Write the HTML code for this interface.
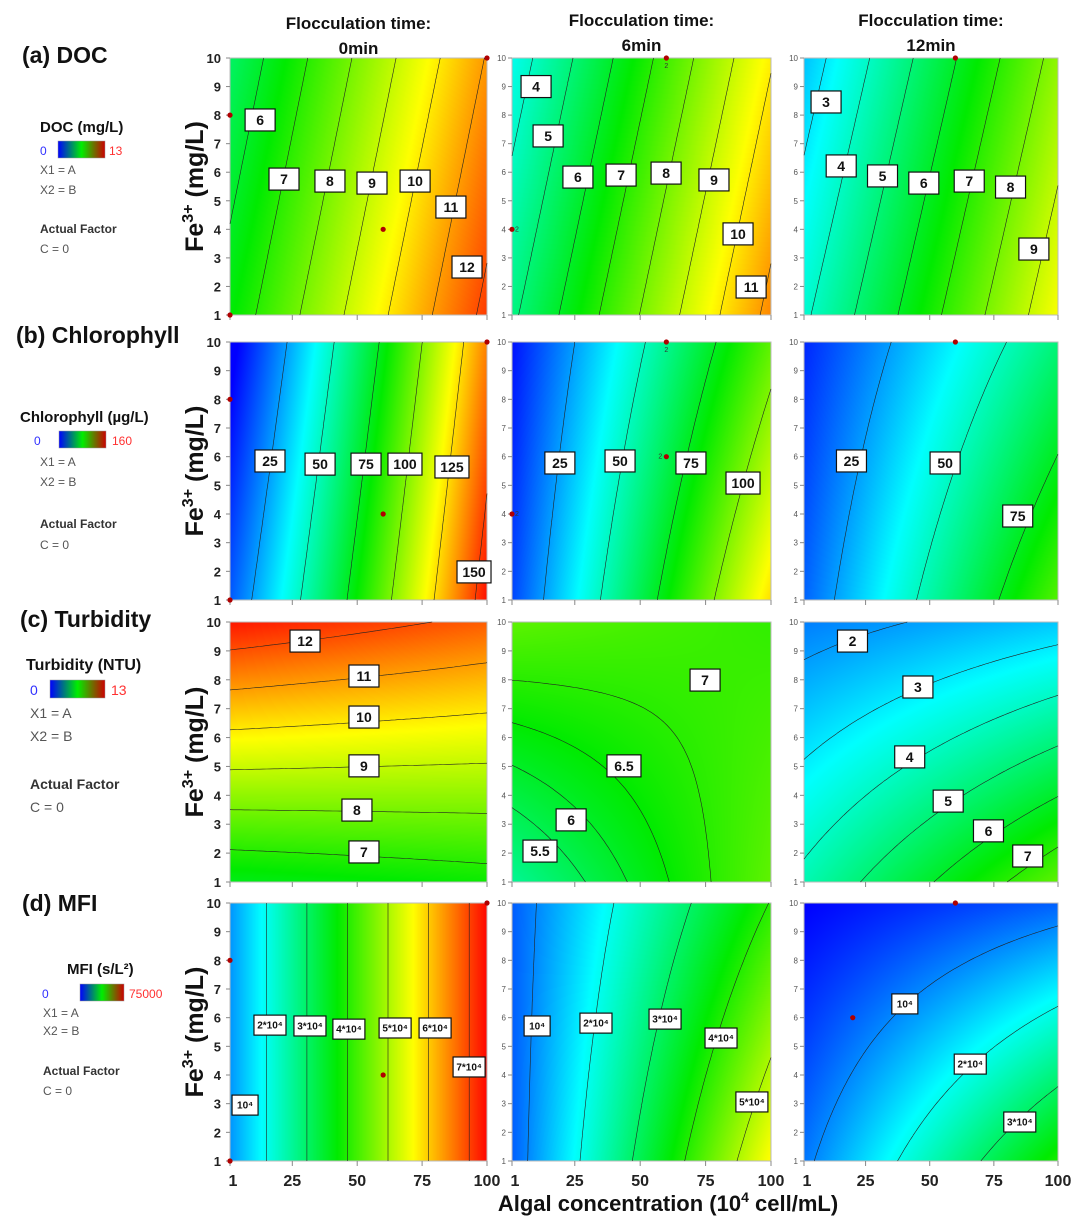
<!DOCTYPE html>
<html><head><meta charset="utf-8">
<style>
html,body{margin:0;padding:0;background:#fff;}
#wrap{position:relative;width:1080px;height:1231px;overflow:hidden;font-family:"Liberation Sans",sans-serif;}
canvas{position:absolute;}
svg{position:absolute;left:0;top:0;}
</style></head>
<body>
<div id="wrap">
<svg id="svg" width="1080" height="1231">
<defs>
<linearGradient id="cbar" x1="0" x2="1" y1="0" y2="0">
<stop offset="0" stop-color="#0000ff"/><stop offset="0.5" stop-color="#00ee00"/><stop offset="1" stop-color="#cc0000"/>
</linearGradient>
</defs>
</svg>
</div>
<script>
// ---- data ----
const xTicks=[1,25,50,75,100];
const yTicks=[1,2,3,4,5,6,7,8,9,10];
const colTitles=["0min","6min","12min"];
const rowTitles=["(a) DOC","(b) Chlorophyll","(c) Turbidity","(d) MFI"];
const ranges=[[0,13],[0,160],[0,13],[0,75000]];
// field coefficients f = a + b*x + c*y + d*x*y + e*x^2
const docCoef=[[6.49,0.0588,-0.131,0,0],[4.92,0.065,-0.15,0,0],[3.93,0.059,-0.15,0,0]];
const chlCoef=[[15.03,1.261,-2,0,0.00183],[10.9,1.175,-0.906,-0.0249,0],[16.05,0.805,-1.05,-0.0249,0]];
const turCoef=[[5.46,0.006,0.725,-0.0015,0],[4.25,0.0353,0.344,-0.0041,0],[4.482,0.0378,-0.287,-0.00284,0]];
const mfiCoef=[[10400,640,0,0,0],[6500,518,0,-18,0],[9408,334.2,-947.8,-26.2,0]];
const docLevels=[[5,6,7,8,9,10,11,12],[4,5,6,7,8,9,10,11],[3,4,5,6,7,8,9]];
const chlLevels=[[25,50,75,100,125,150],[25,50,75,100],[25,50,75]];
const turLevels=[[7,8,9,10,11,12],[5.5,6,6.5,7],[2,3,4,5,6,7]];
const mfiLevels=[[10000,20000,30000,40000,50000,60000,70000],[10000,20000,30000,40000,50000],[10000,20000,30000]];
const docLabels=[[["6",12.6,7.83],["7",21.8,5.76],["8",39.5,5.69],["9",55.7,5.62],["10",72.3,5.69],["11",86.1,4.78],["12",92.3,2.68]],
 [["4",10.2,9.0],["5",14.8,7.27],["6",26.2,5.83],["7",42.7,5.9],["8",59.9,5.97],["9",78.2,5.73],["10",87.4,3.84],["11",92.4,1.98]],
 [["3",9.6,8.46],["4",15.5,6.22],["5",31.6,5.87],["6",47.7,5.62],["7",65.4,5.69],["8",81.5,5.48],["9",90.6,3.31]]];
const chlLabels=[[["25",16.4,5.85],["50",35.7,5.74],["75",53.4,5.74],["100",68.4,5.74],["125",86.5,5.64],["150",95.0,1.98]],
 [["25",19.3,5.78],["50",42.3,5.85],["75",69.4,5.78],["100",89.3,5.08]],
 [["25",19.5,5.85],["50",56.0,5.78],["75",84.3,3.93]]];
const turLabels=[[["12",29.9,9.34],["11",52.6,8.13],["10",52.6,6.71],["9",52.6,5.02],["8",49.9,3.49],["7",52.6,2.04]],
 [["7",74.8,7.99],["6.5",43.8,5.02],["6",23.6,3.15],["5.5",11.7,2.07]],
 [["2",19.9,9.34],["3",45.4,7.75],["4",42.2,5.33],["5",57.2,3.8],["6",72.9,2.77],["7",88.2,1.9]]];
const mfiLabels=[[["10⁴",6.8,2.95],["2*10⁴",16.4,5.74],["3*10⁴",31.8,5.71],["4*10⁴",46.8,5.6],["5*10⁴",64.6,5.64],["6*10⁴",80.0,5.64],["7*10⁴",93.1,4.28]],
 [["10⁴",10.6,5.71],["2*10⁴",33.1,5.81],["3*10⁴",59.5,5.95],["4*10⁴",80.9,5.29],["5*10⁴",92.7,3.06]],
 [["10⁴",40.3,6.48],["2*10⁴",65.8,4.38],["3*10⁴",85.1,2.36]]];
const docPoints=[[[1,8,""],[1,1,""],[100,10,""],[60,4,""]],[[60,10,"2"],[1,4,"2"]],[[60,10,""]]];
const chlPoints=[[[1,8,""],[1,1,""],[100,10,""],[60,4,""]],[[60,10,"2"],[60,6,"2"],[1,4,"2"]],[[60,10,""]]];
const turPoints=[[],[],[]];
const mfiPoints=[[[1,8,""],[1,1,""],[100,10,""],[60,4,""]],[],[[60,10,""],[20,6,""]]];

// ---- layout ----
const colX=[[230,487],[512,771],[804,1058]];
const rowY=[[58,315],[342,600],[622,882],[903,1161]];
const coefs=[docCoef,chlCoef,turCoef,mfiCoef];
const levels=[docLevels,chlLevels,turLevels,mfiLevels];
const labels=[docLabels,chlLabels,turLabels,mfiLabels];
const points=[docPoints,chlPoints,turPoints,mfiPoints];

const NS="http://www.w3.org/2000/svg";
const svg=document.getElementById('svg');
const wrap=document.getElementById('wrap');
function mk(tag,attrs,parent,text){const e=document.createElementNS(NS,tag);for(const k in attrs)e.setAttribute(k,attrs[k]);if(text!==undefined)e.textContent=text;(parent||svg).appendChild(e);return e;}
function field(c,x,y){return c[0]+c[1]*x+c[2]*y+c[3]*x*y+c[4]*x*x;}
function cmap(t){t=Math.max(0,Math.min(1,t));const s=[[0,0,255],[0,255,255],[0,235,0],[255,255,0],[255,0,0]];const p=t*4,i=Math.min(3,Math.floor(p)),f=p-i;return s[i].map((v,k)=>Math.round(v+(s[i+1][k]-v)*f));}

for(let r=0;r<4;r++){for(let c=0;c<3;c++){
  const L=colX[c][0],R=colX[c][1],T=rowY[r][0],B=rowY[r][1],W=R-L,H=B-T;
  const sx=x=>L+(x-1)/99*W, sy=y=>B-(y-1)/9*H;
  const co=coefs[r][c],rg=ranges[r];
  const cv=document.createElement('canvas');cv.width=W;cv.height=H;cv.style.left=L+'px';cv.style.top=T+'px';
  
  
  const ctx=cv.getContext('2d');const img=ctx.createImageData(W,H);
  for(let j=0;j<H;j++){const y=1+(H-1-j)/(H-1)*9;for(let i=0;i<W;i++){const x=1+i/(W-1)*99;const col=cmap((field(co,x,y)-rg[0])/(rg[1]-rg[0]));const o=(j*W+i)*4;img.data[o]=col[0];img.data[o+1]=col[1];img.data[o+2]=col[2];img.data[o+3]=255;}}
  ctx.putImageData(img,0,0);wrap.insertBefore(cv,svg);
  const g=mk('g',{});
  
  
  mk('rect',{x:L,y:T,width:W,height:H,fill:'none',stroke:'#bbb','stroke-width':1},g);
  const N=70;const vals=[];
  for(let j=0;j<=N;j++){vals.push([]);for(let i=0;i<=N;i++)vals[j].push(field(co,1+i/N*99,1+j/N*9));}
  levels[r][c].forEach(lv=>{
    let d='';
    for(let j=0;j<N;j++)for(let i=0;i<N;i++){
      const v=[vals[j][i],vals[j][i+1],vals[j+1][i+1],vals[j+1][i]];
      const pc=[[i,j],[i+1,j],[i+1,j+1],[i,j+1]];const pts=[];
      for(let k=0;k<4;k++){const a=v[k],b=v[(k+1)%4];if((a<lv)!==(b<lv)){const t=(lv-a)/(b-a);const p=pc[k],q=pc[(k+1)%4];pts.push([p[0]+(q[0]-p[0])*t,p[1]+(q[1]-p[1])*t]);}}
      for(let k=0;k+1<pts.length;k+=2){const X=p=>sx(1+p[0]/N*99).toFixed(1),Y=p=>sy(1+p[1]/N*9).toFixed(1);d+='M'+X(pts[k])+' '+Y(pts[k])+'L'+X(pts[k+1])+' '+Y(pts[k+1]);}
    }
    const pe=mk('path',{d:d,stroke:'#222','stroke-width':0.6,fill:'none'},g);
    
    
  });
  yTicks.forEach(t=>{
    mk('line',{x1:L-4,x2:L,y1:sy(t),y2:sy(t),stroke:'#888','stroke-width':1},g);
    const tx=c===0?mk('text',{x:L-9,y:sy(t)+5,'text-anchor':'end','font-size':13,'font-weight':'bold',fill:'#222'},g,t):mk('text',{x:L-6,y:sy(t)+3,'text-anchor':'end','font-size':8,fill:'#555'},g,t);
    
    
  });
  xTicks.forEach(t=>{
    mk('line',{x1:sx(t),x2:sx(t),y1:B,y2:B+5,stroke:'#888','stroke-width':1},g);
    if(r===3){const tx=mk('text',{x:sx(t)+(t===1?3:0),y:B+25,'text-anchor':'middle','font-size':16,'font-weight':'bold',fill:'#222'},g,t);
      
      }
  });
  points[r][c].forEach(p=>{
    const dt=mk('circle',{cx:sx(p[0]),cy:sy(p[1]),r:2.6,fill:'#b00000'},g);
    
    
    if(p[2]){if(p[1]===10)mk('text',{x:sx(p[0])-2,y:sy(p[1])+10,'font-size':7,fill:'#333'},g,p[2]);else mk('text',{x:sx(p[0])+(p[0]===1?3:-8),y:sy(p[1])+2,'font-size':7,fill:'#333'},g,p[2]);}
  });
  labels[r][c].forEach(lb=>{
    const small=r===3;const fs=small?10:14;const w=small?(lb[0].length>3?32:26):Math.max(30,lb[0].length*8+10);const h=small?20:22;
    const cx=sx(lb[1]),cy=sy(lb[2]);
    const lg=mk('g',{},g);
    
    
    mk('rect',{x:cx-w/2,y:cy-h/2,width:w,height:h,fill:'#fff',stroke:'#111','stroke-width':1.2},lg);
    mk('text',{x:cx,y:cy+fs*0.36,'text-anchor':'middle','font-size':fs,'font-weight':'bold',fill:'#111'},lg,lb[0]);
  });
}}

colTitles.forEach((t,c)=>{
  const cx=(colX[c][0]+colX[c][1])/2, dy=c===0?0:-3;
  const a=mk('text',{x:cx,y:29+dy,'text-anchor':'middle','font-size':17,'font-weight':'bold',fill:'#111'},svg,'Flocculation time:');
  
  
  const b=mk('text',{x:cx,y:54+dy,'text-anchor':'middle','font-size':17,'font-weight':'bold',fill:'#111'},svg,t);
  
  
});
const rowTitleY=[63,343,627,911];
rowTitles.forEach((t,r)=>{
  const e=mk('text',{x:[22,16,20,22][r],y:rowTitleY[r],'font-size':23,'font-weight':'bold',fill:'#111'},svg,t);
  
  
  const cy=(rowY[r][0]+rowY[r][1])/2;
  const yt=mk('text',{x:0,y:0,transform:'translate(203,'+cy+') rotate(-90)','text-anchor':'middle','font-size':25,'font-weight':'bold',fill:'#111'});
  
  
  mk('tspan',{},yt,'Fe');mk('tspan',{'font-size':16,dy:-10},yt,'3+');mk('tspan',{dy:10},yt,' (mg/L)');
});
const legends=[
 {title:'DOC  (mg/L)',tx:40,ty:132,fs:15,bx:58,by:141,bw:47,bh:17,lo:'0',lox:40,hi:'13',hix:109,x1:174,x2:194,af:233,c0:253},
 {title:'Chlorophyll (µg/L)',tx:20,ty:422,fs:15,bx:59,by:431,bw:47,bh:17,lo:'0',lox:34,hi:'160',hix:112,x1:466,x2:486,af:528,c0:549},
 {title:'Turbidity (NTU)',tx:26,ty:670,fs:16,bx:50,by:680,bw:55,bh:18,lo:'0',lox:30,hi:'13',hix:111,x1:718,x2:741,af:789,c0:812},
 {title:'MFI (s/L²)',tx:67,ty:974,fs:15,bx:80,by:984,bw:44,bh:17,lo:'0',lox:42,hi:'75000',hix:129,x1:1017,x2:1035,af:1075,c0:1095}
];
legends.forEach((l,r)=>{
  const g=mk('g',{});
  
  
  const sm=r===2?14:12;
  const x0=r===2?30:(r===3?43:40);
  mk('text',{x:l.tx,y:l.ty,'font-size':l.fs,'font-weight':'bold',fill:'#111'},g,l.title);
  mk('rect',{x:l.bx,y:l.by,width:l.bw,height:l.bh,fill:'url(#cbar)',stroke:'#999','stroke-width':0.5},g);
  mk('text',{x:l.lox,y:l.by+l.bh-3,'font-size':sm,fill:'#3030ff'},g,l.lo);
  mk('text',{x:l.hix,y:l.by+l.bh-3,'font-size':sm,fill:'#ff3030'},g,l.hi);
  mk('text',{x:x0,y:l.x1,'font-size':sm,fill:'#555'},g,'X1 = A');
  mk('text',{x:x0,y:l.x2,'font-size':sm,fill:'#555'},g,'X2 = B');
  mk('text',{x:x0,y:l.af,'font-size':sm,'font-weight':'bold',fill:'#333'},g,'Actual Factor');
  mk('text',{x:x0,y:l.c0,'font-size':sm,fill:'#555'},g,'C = 0');
});
const xt=mk('text',{x:668,y:1211,'text-anchor':'middle','font-size':22,'font-weight':'bold',fill:'#111'});


mk('tspan',{},xt,'Algal concentration (10');mk('tspan',{'font-size':14,dy:-9},xt,'4');mk('tspan',{dy:9},xt,' cell/mL)');
</script>
</body></html>
